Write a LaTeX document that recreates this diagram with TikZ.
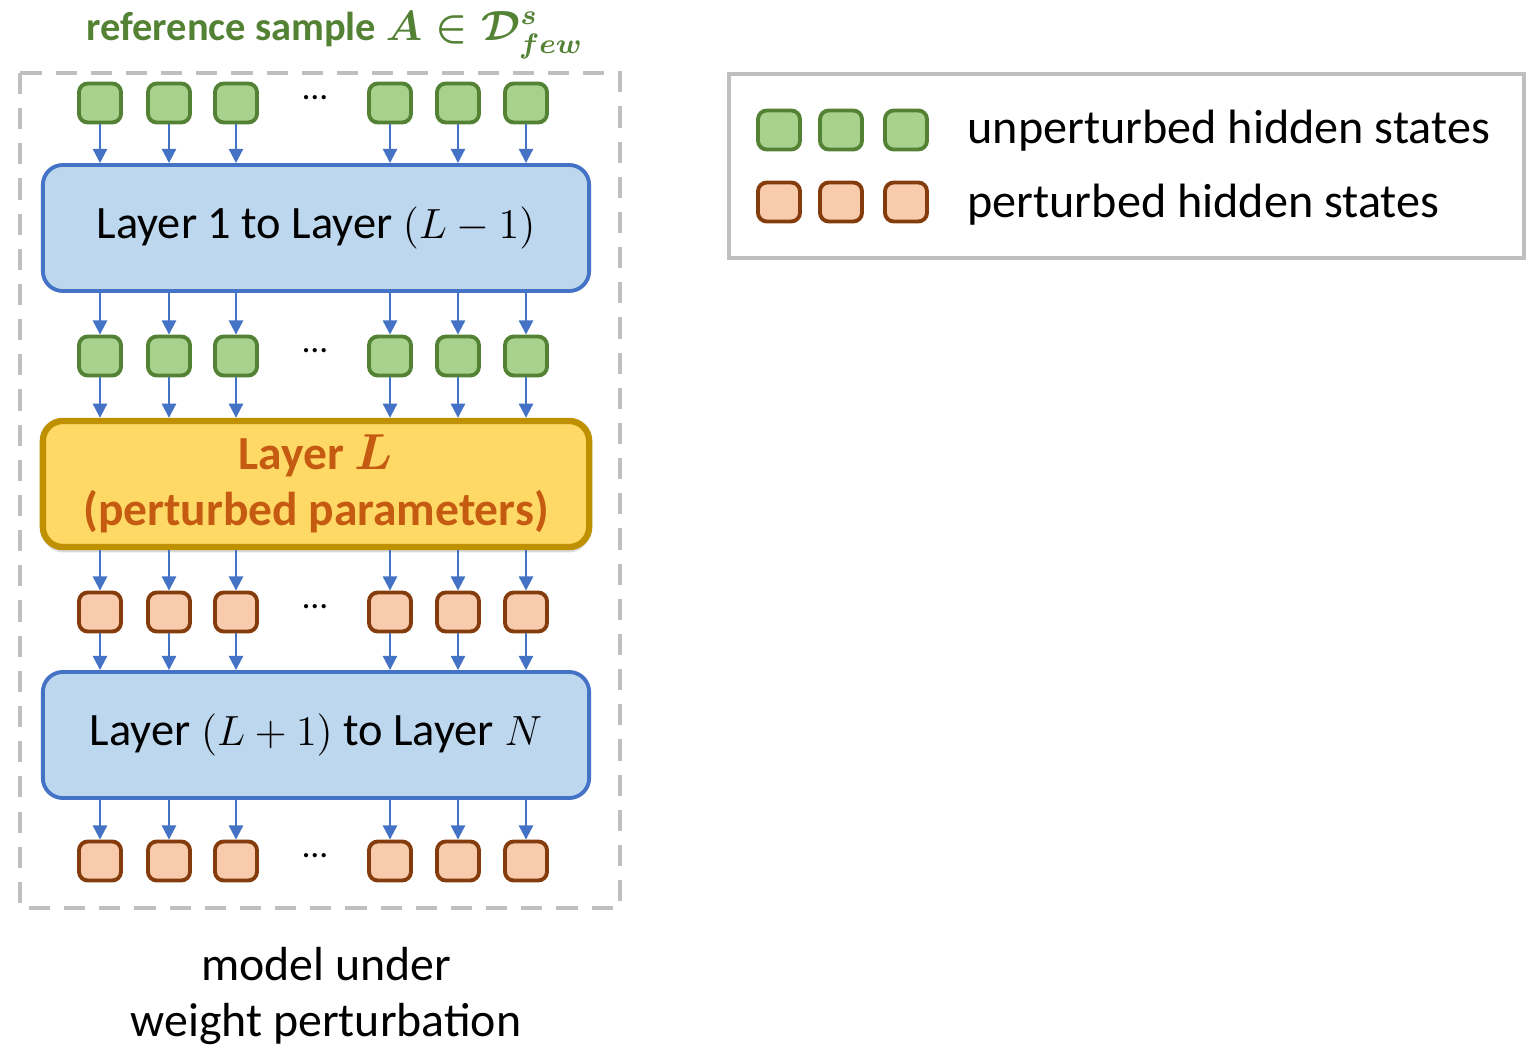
\documentclass[tikz,border=0pt]{standalone}
\usepackage{fontspec}
\setmainfont{Carlito}
\usepackage{amsmath}
\usetikzlibrary{arrows.meta,shadows}
\definecolor{gfill}{HTML}{A9D18E}
\definecolor{gline}{HTML}{548235}
\definecolor{ofill}{HTML}{F8CBAD}
\definecolor{oline}{HTML}{843C0C}
\definecolor{bfill}{HTML}{BDD7EE}
\definecolor{bline}{HTML}{4472C4}
\definecolor{yfill}{HTML}{FFD966}
\definecolor{yline}{HTML}{BF9000}
\definecolor{otext}{HTML}{C55A11}
\definecolor{frame}{HTML}{BFBFBF}
\tikzset{
  hstate/.style={draw, rounded corners=2.5pt, line width=1.1pt,
    minimum width=0.42cm, minimum height=0.39cm, inner sep=0pt},
  green st/.style={hstate, draw=gline, fill=gfill},
  orange st/.style={hstate, draw=oline, fill=ofill},
  layer/.style={draw=bline, fill=bfill, line width=1.1pt, rounded corners=0.2cm,
    minimum width=5.46cm, minimum height=1.26cm, align=center,
    font=\fontsize{13.2}{16}\selectfont},
  flow/.style={bline, line width=0.6pt, -{Triangle[width=4pt,length=4pt]}},
}
\begin{document}
\begin{tikzpicture}[x=0.01cm, y=-0.01cm]
    \useasboundingbox (0,0) rectangle (1534,1046);
    % model frame
    \draw[frame, line width=1pt, dash pattern=on 6pt off 4pt] (20,73) rectangle (620,908);
    \node[text=gline, font=\fontsize{11.5}{14}\selectfont\bfseries, inner sep=1pt] (title) at (335,35)
      {reference sample {\boldmath$A \in \mathcal{D}^{s}_{few}$}};
    % hidden states
    \foreach \r/\y/\s in {a/103/green st, b/356/green st, c/612/orange st, d/861/orange st}{
      \foreach \i/\x in {1/100, 2/169, 3/236, 4/390, 5/458, 6/526}
        \node[\s] (\r\i) at (\x,\y) {};
      \node (dots\r) at (315,\y-5) {\dots};
    }
    % layers
    \node[layer] (lay1) at (316,228) {Layer 1 to Layer $(L-1)$};
    \node[layer, draw=yline, fill=yfill, line width=1.8pt, text=otext,
      font=\fontsize{13.5}{16}\selectfont\bfseries,
      drop shadow={shadow xshift=0pt, shadow yshift=-1.5pt, opacity=0.3}]
      (layL) at (316,484) {Layer {\boldmath$L$}\\(perturbed parameters)};
    \node[layer] (layN) at (316,735) {Layer $(L+1)$ to Layer $N$};
    % arrows
    \foreach \i in {1,...,6}{
      \draw[flow] (a\i) -- (a\i |- lay1.north);
      \draw[flow] (a\i |- lay1.south) -- (b\i);
      \draw[flow] (b\i) -- (b\i |- layL.north);
      \draw[flow] (b\i |- layL.south) -- (c\i);
      \draw[flow] (c\i) -- (c\i |- layN.north);
      \draw[flow] (c\i |- layN.south) -- (d\i);
    }
    \node[align=center, font=\fontsize{13.6}{16}\selectfont] (caption) at (326,996)
      {model under\\weight perturbation};
    % legend
    \draw[frame, line width=1pt] (729,74) rectangle (1524,258);
    \foreach \i/\x in {1/779, 2/841, 3/906}{
      \node[green st] (lg\i) at (\x,130) {};
      \node[orange st] (lo\i) at (\x,202) {};
    }
    \node[anchor=west, font=\fontsize{13.7}{15}\selectfont] (lgtext) at (955,131) {unperturbed hidden states};
    \node[anchor=west, font=\fontsize{13.7}{15}\selectfont] (lotext) at (955,205) {perturbed hidden states};
\end{tikzpicture}
\end{document}
